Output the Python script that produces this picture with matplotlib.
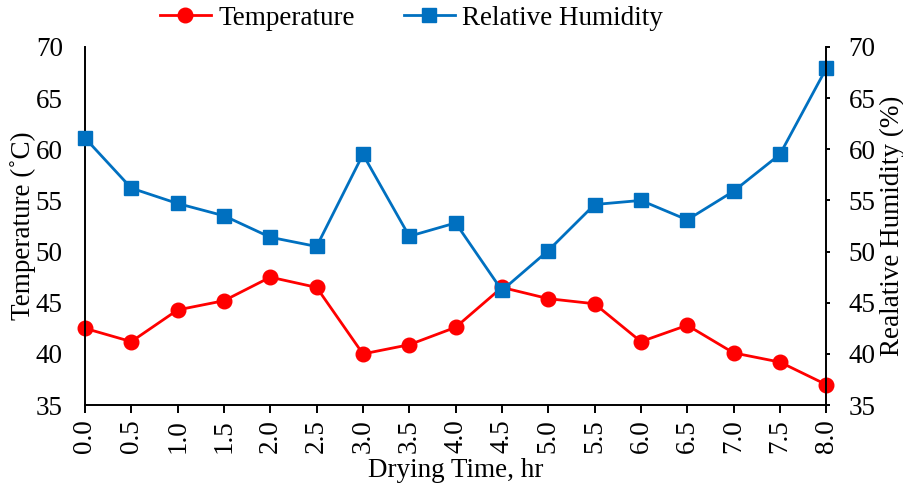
import numpy as np
import matplotlib
matplotlib.use("Agg")
import matplotlib.pyplot as plt

plt.rcParams['font.family'] = ['Liberation Serif', 'DejaVu Serif']

drying_time = [0.0, 0.5, 1.0, 1.5, 2.0, 2.5, 3.0, 3.5, 4.0,
               4.5, 5.0, 5.5, 6.0, 6.5, 7.0, 7.5, 8.0]
temperature = [42.5, 41.2, 44.3, 45.2, 47.5, 46.5, 40.0, 40.9, 42.6,
               46.5, 45.4, 44.9, 41.2, 42.8, 40.1, 39.2, 37.0]
humidity = [61.1, 56.2, 54.7, 53.5, 51.4, 50.5, 59.5, 51.5, 52.8,
            46.2, 50.1, 54.6, 55.0, 53.1, 55.9, 59.5, 67.9]
y_ticks = [35, 40, 45, 50, 55, 60, 65, 70]

red = "#FF0000"
blue = "#0070C0"
fs = 19.5

fig = plt.figure(figsize=(9.04, 4.94), dpi=100)
ax = fig.add_axes([0.094, 0.180, 0.820, 0.725])
ax2 = ax.twinx()

l1, = ax.plot(drying_time, temperature, color=red, lw=2.0, marker='o',
              ms=10.5, label="Temperature", clip_on=False)
l2, = ax2.plot(drying_time, humidity, color=blue, lw=2.0, marker='s',
               ms=10.5, label="Relative Humidity", clip_on=False)

for a in (ax, ax2):
    a.set_xlim(0, 8)
    a.set_ylim(35, 70)
    a.set_yticks(y_ticks)
    a.spines['top'].set_visible(False)
    for s in a.spines.values():
        s.set_linewidth(1.4)

ax.spines['right'].set_visible(False)
ax2.spines['left'].set_visible(False)
ax2.spines['bottom'].set_visible(False)

ax.set_xticks(drying_time)
ax.set_xticklabels(["%.1f" % v for v in drying_time], rotation=90)
ax.tick_params(axis='x', direction='out', length=6, width=1.4,
               labelsize=fs, pad=4)
ax.tick_params(axis='y', length=0, labelsize=fs, pad=16)
ax2.tick_params(axis='y', direction='out', length=3, width=1.4,
                labelsize=fs, pad=13)

ax.set_xlabel("Drying Time, hr", fontsize=fs, labelpad=4)
ax.set_ylabel("Temperature (˚C)", fontsize=fs, labelpad=0)
ax2.set_ylabel("Realative Humidity (%)", fontsize=fs, labelpad=3)

fig.legend(handles=[l1, l2], loc='center', ncol=2, frameon=False,
           fontsize=fs, bbox_to_anchor=(0.455, 0.963), handlelength=1.9,
           columnspacing=1.8, handletextpad=0.26)

fig.savefig("out.png", dpi=100)
